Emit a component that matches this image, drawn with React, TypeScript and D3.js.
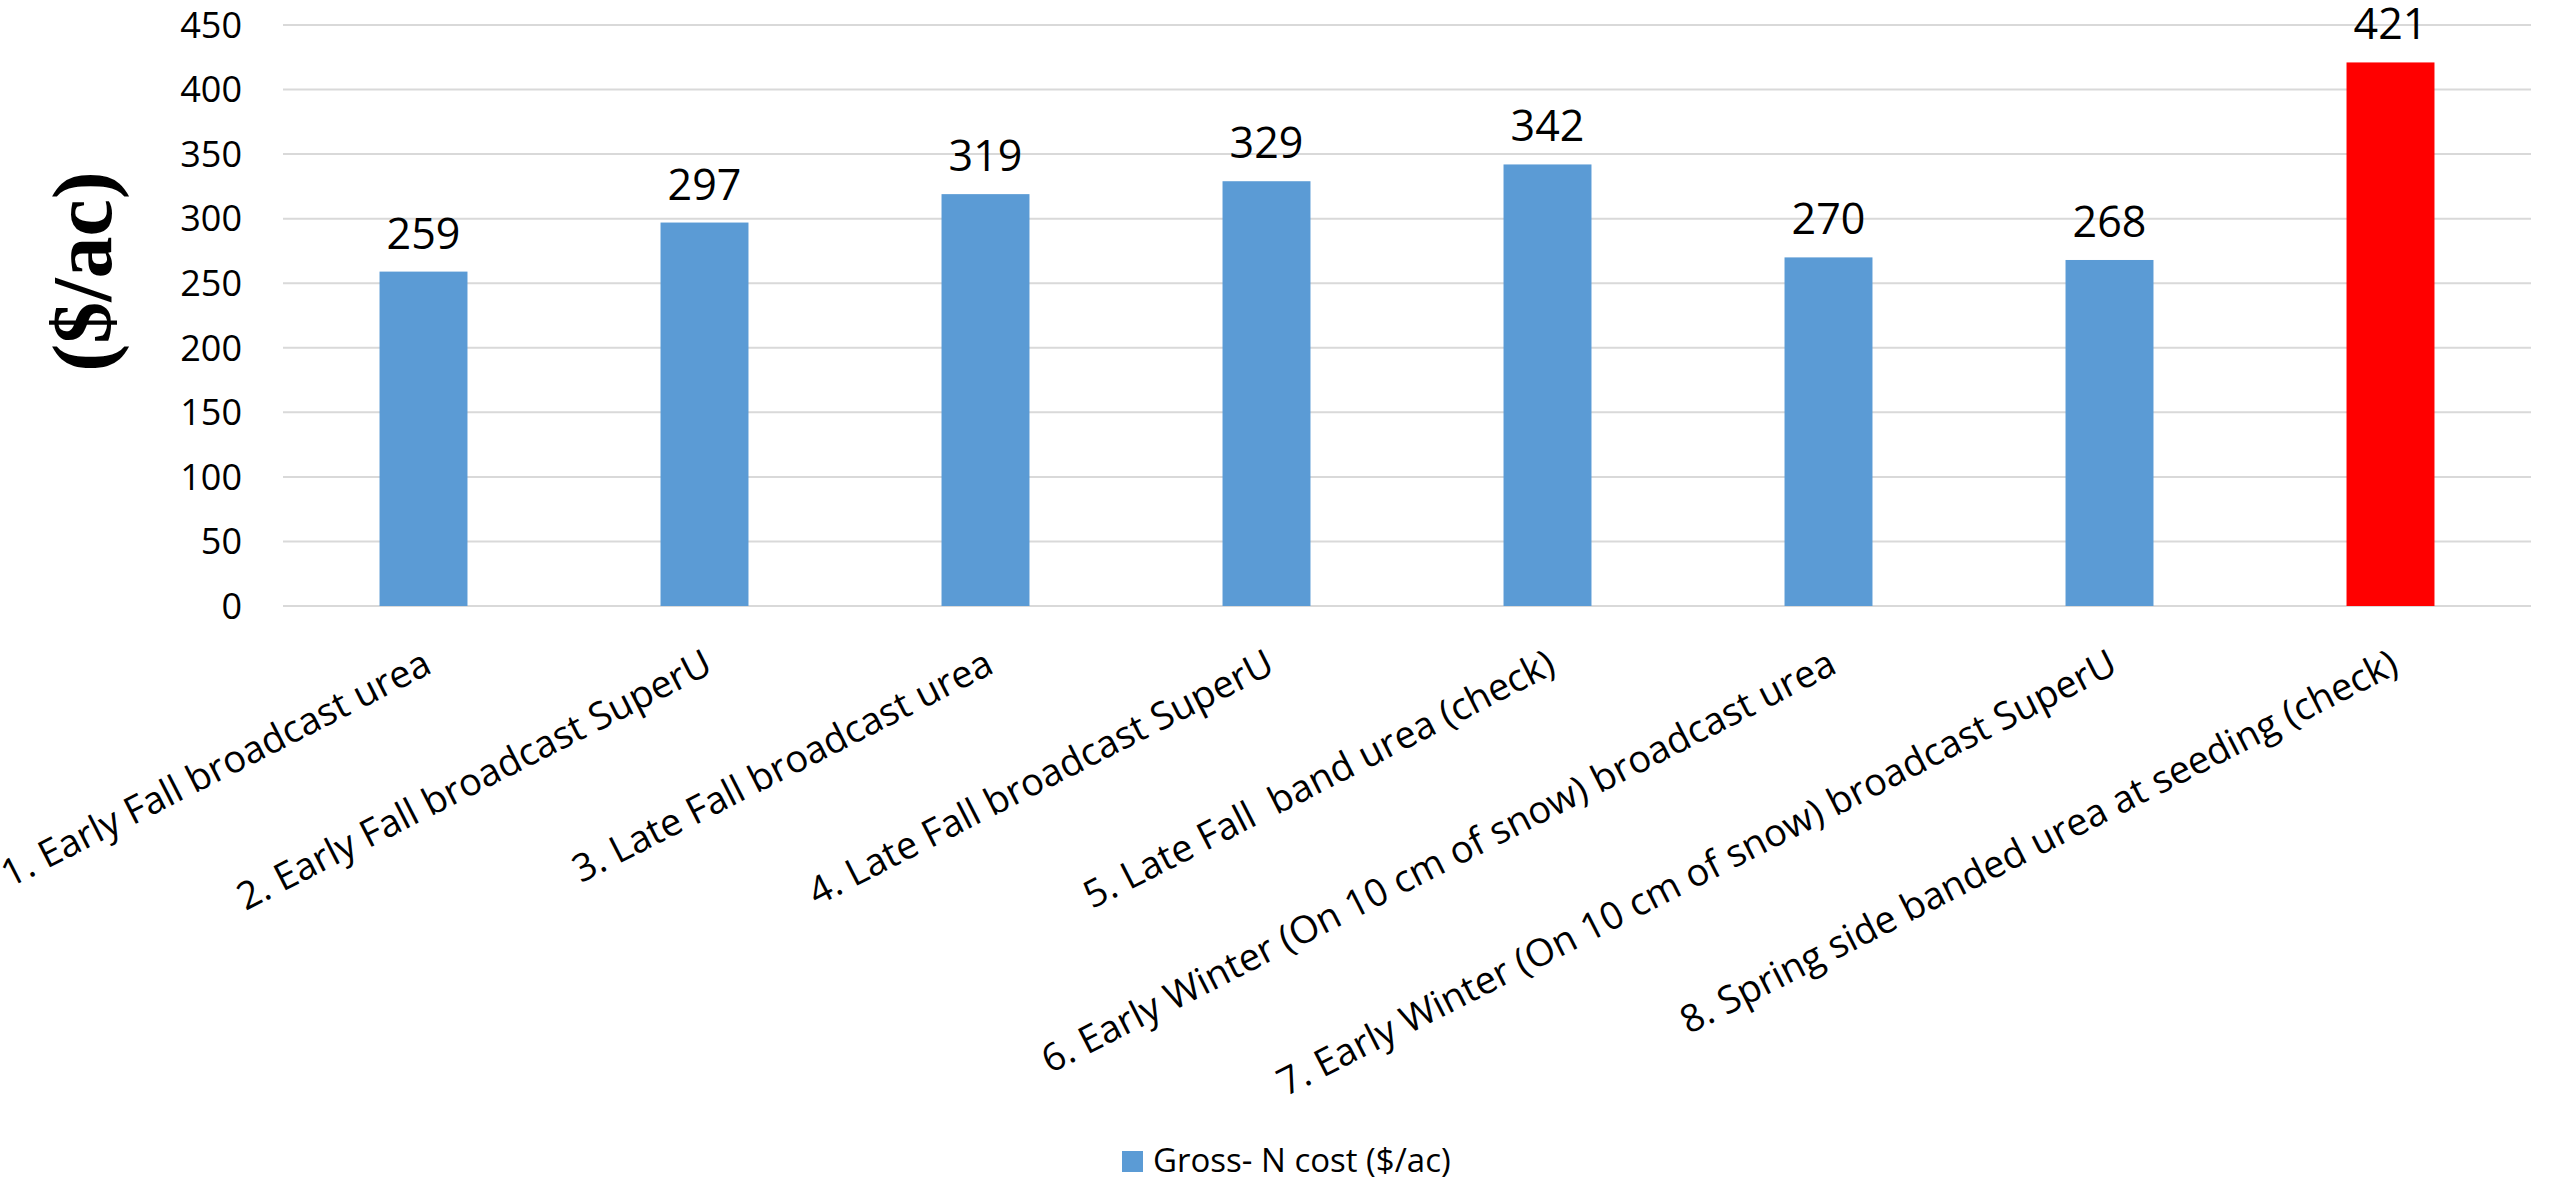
import React from "react";
import * as d3 from "d3";

const categories: string[] = [
  "1. Early Fall broadcast urea",
  "2. Early Fall broadcast SuperU",
  "3. Late Fall broadcast urea",
  "4. Late Fall broadcast SuperU",
  "5. Late Fall  band urea (check)",
  "6. Early Winter (On 10 cm of snow) broadcast urea",
  "7. Early Winter (On 10 cm of snow) broadcast SuperU",
  "8. Spring side banded urea at seeding (check)",
];
const values: number[] = [259, 297, 319, 329, 342, 270, 268, 421];
const barColors: string[] = ["#5B9BD5", "#5B9BD5", "#5B9BD5", "#5B9BD5", "#5B9BD5", "#5B9BD5", "#5B9BD5", "#FF0000"];
const yTicks: number[] = [0, 50, 100, 150, 200, 250, 300, 350, 400, 450];
const seriesName = "Gross- N cost ($/ac)";
const yTitle = "($/ac)";

const W = 2552;
const H = 1179;
const plotLeft = 283;
const plotRight = 2531;
const yTop = 25;
const yBottom = 606;

export default function App() {
  const x = d3
    .scaleBand<string>()
    .domain(categories)
    .range([plotLeft, plotRight])
    .paddingInner(0.687)
    .paddingOuter(0.3435);
  const y = d3.scaleLinear().domain([0, 450]).range([yBottom, yTop]);
  const sans = "'Open Sans', 'Noto Sans', sans-serif";

  return (
    <svg
      width={W}
      height={H}
      style={{ position: "absolute", left: 0, top: 0, background: "#fff" }}
    >
      <rect x={0} y={0} width={W} height={H} fill="#fff" />
      {/* gridlines */}
      {yTicks.map((t) => (
        <line
          key={"g" + t}
          x1={plotLeft}
          x2={plotRight}
          y1={y(t)}
          y2={y(t)}
          stroke="#D9D9D9"
          strokeWidth={2}
        />
      ))}
      {/* y tick labels */}
      {yTicks.map((t) => (
        <text
          key={"t" + t}
          x={242}
          y={y(t) + 12.8}
          textAnchor="end"
          fontFamily={sans}
          fontSize={36}
          fill="#000"
        >
          {t}
        </text>
      ))}
      {/* bars */}
      {categories.map((c, i) => (
        <rect
          key={"b" + i}
          x={x(c)}
          y={y(values[i])}
          width={x.bandwidth()}
          height={y(0) - y(values[i])}
          fill={barColors[i]}
        />
      ))}
      {/* data labels */}
      {categories.map((c, i) => (
        <text
          key={"l" + i}
          x={(x(c) as number) + x.bandwidth() / 2}
          y={y(values[i]) - 23}
          textAnchor="middle"
          fontFamily={sans}
          fontSize={43}
          fill="#000"
        >
          {values[i]}
        </text>
      ))}
      {/* x labels */}
      {categories.map((c, i) => {
        const cx = (x(c) as number) + x.bandwidth() / 2;
        return (
          <text
            key={"x" + i}
            transform={`translate(${cx + 10},${yBottom + 66}) rotate(-27)`}
            textAnchor="end"
            fontFamily={sans}
            fontSize={38}
            fill="#000"
            style={{ whiteSpace: "pre" }}
          >
            {c}
          </text>
        );
      })}
      {/* y title */}
      <text
        transform={`translate(111,271.5) rotate(-90)`}
        textAnchor="middle"
        fontFamily="'Liberation Serif', 'Times New Roman', serif"
        fontWeight="bold"
        fontSize={84}
        fill="#000"
      >
        {yTitle}
      </text>
      {/* legend */}
      <rect x={1122} y={1151} width={21} height={21} fill={barColors[0]} />
      <text x={1153} y={1172} fontFamily={sans} fontSize={33} fill="#000">
        {seriesName}
      </text>
    </svg>
  );
}
